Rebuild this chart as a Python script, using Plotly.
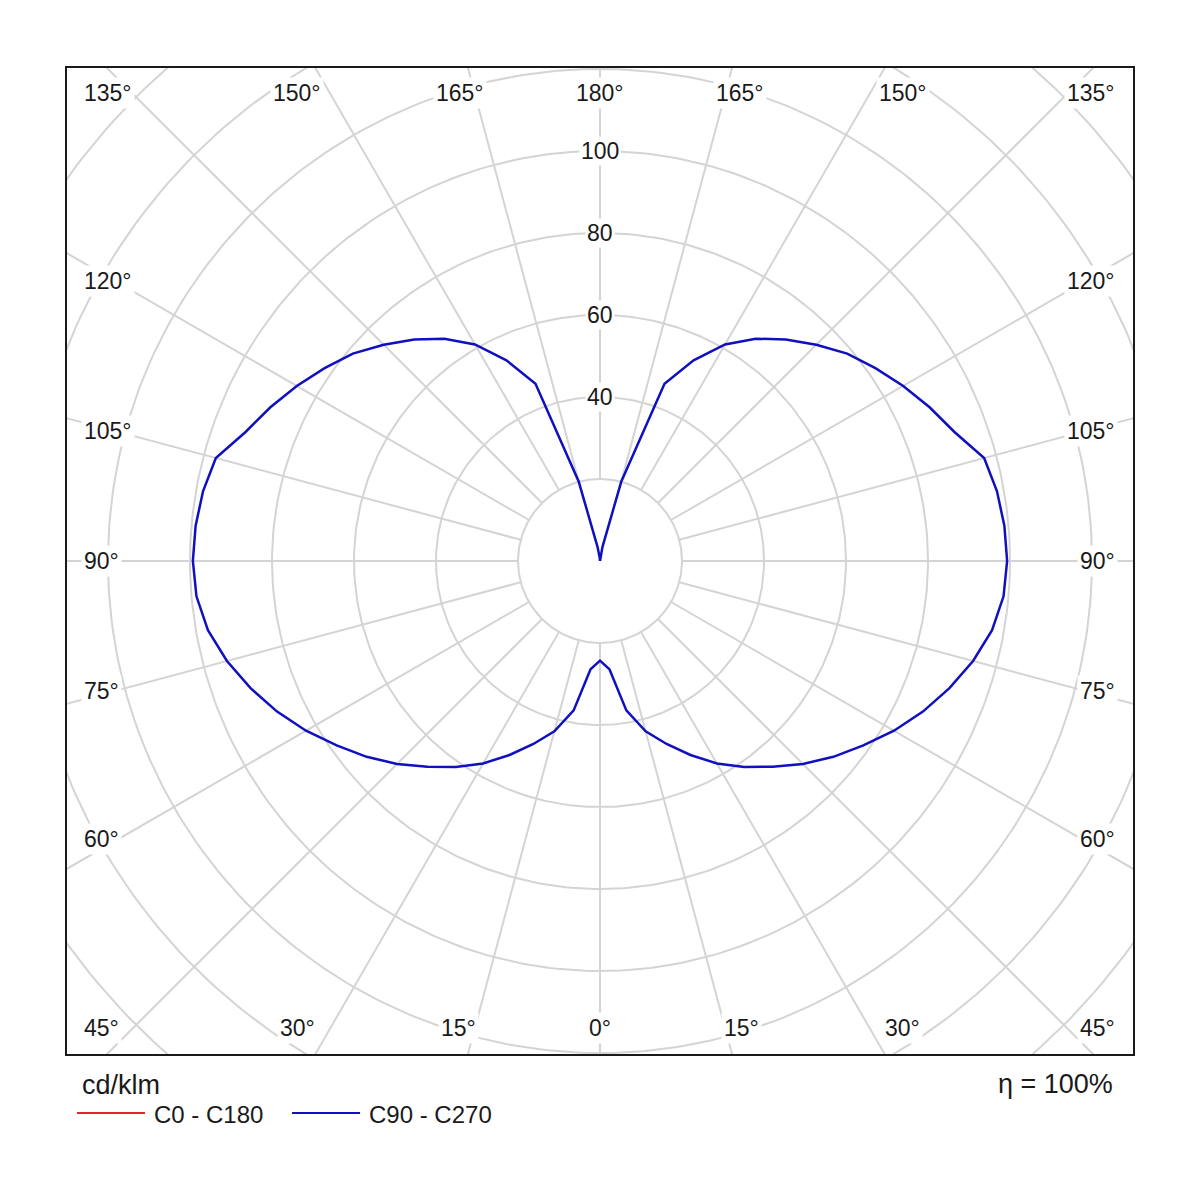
import numpy as np
import plotly.graph_objects as go

# Luminous intensity distribution (cd/klm) at 5 deg steps
gamma_deg = [0, 5, 10, 15, 20, 25, 30, 35, 40, 45, 50, 55, 60, 65, 70, 75, 80, 85, 90,
             95, 100, 105, 110, 115, 120, 125, 130, 135, 140, 145, 150, 155, 160, 165,
             170, 175, 180]
c90_c270 = [24.3, 26.5, 37.0, 43.0, 47.5, 52.2, 57.0, 61.3, 65.5, 70.0, 74.3, 78.4,
            82.8, 86.9, 90.7, 94.2, 97.1, 98.8, 99.3, 99.0, 98.3, 97.0, 92.0, 88.7,
            85.4, 82.0, 78.7, 74.6, 70.5, 66.2, 61.0, 54.0, 46.0, 20.0, 3.5, 0.8, 0.0]
# rotationally symmetric luminaire: C0-C180 equals C90-C270 and sits under it
c0_c180 = list(c90_c270)

grid_radii = [20, 40, 60, 80, 100, 120, 140, 160]
radius_labels = [40, 60, 80, 100]
spoke_angles = list(range(0, 360, 15))

# angle labels around the frame: (text, x, y, xanchor)
angle_labels = [
    ("135°", -126.6, 114.1, "left"), ("150°", -73.9, 114.1, "center"),
    ("165°", -34.1, 114.1, "center"), ("180°", 0.0, 114.1, "center"),
    ("165°", 34.1, 114.1, "center"), ("150°", 73.9, 114.1, "center"),
    ("135°", 126.3, 114.1, "right"),
    ("120°", -126.6, 68.3, "left"), ("105°", -126.6, 31.7, "left"),
    ("90°", -126.6, 0.0, "left"), ("75°", -126.6, -31.7, "left"),
    ("60°", -126.6, -67.8, "left"), ("45°", -126.6, -113.9, "left"),
    ("120°", 126.3, 68.3, "right"), ("105°", 126.3, 31.7, "right"),
    ("90°", 126.3, 0.0, "right"), ("75°", 126.3, -31.7, "right"),
    ("60°", 126.3, -67.8, "right"), ("45°", 126.3, -113.9, "right"),
    ("30°", -73.9, -113.9, "center"), ("15°", -34.6, -113.9, "center"),
    ("0°", 0.0, -113.9, "center"), ("15°", 34.6, -113.9, "center"),
    ("30°", 73.9, -113.9, "center"),
]

FONT = "Liberation Sans"
GRID = "#d4d4d4"
BLUE = "#1010c0"
RED = "#e3262b"


def to_xy(gammas, values):
    """Both halves of a C-plane pair, gamma measured from nadir (down)."""
    g = np.radians(np.asarray(gammas, dtype=float))
    r = np.asarray(values, dtype=float)
    # left half (C270 / C180) from the top down, then right half back up
    x = np.concatenate([-(r * np.sin(g))[::-1], (r * np.sin(g))[1:]])
    y = np.concatenate([(-r * np.cos(g))[::-1], (-r * np.cos(g))[1:]])
    return x, y


fig = go.Figure()

# grid circles
t = np.linspace(0, 2 * np.pi, 361)
for rad in grid_radii:
    fig.add_trace(go.Scatter(x=rad * np.cos(t), y=rad * np.sin(t), mode="lines",
                             line=dict(color=GRID, width=2), hoverinfo="skip",
                             showlegend=False))

# spokes from the inner circle outwards
for a in spoke_angles:
    ar = np.radians(a)
    fig.add_trace(go.Scatter(x=[20 * np.sin(ar), 200 * np.sin(ar)],
                             y=[-20 * np.cos(ar), -200 * np.cos(ar)], mode="lines",
                             line=dict(color=GRID, width=2), hoverinfo="skip",
                             showlegend=False))

x0, y0 = to_xy(gamma_deg, c0_c180)
fig.add_trace(go.Scatter(x=x0, y=y0, mode="lines", name="C0 - C180",
                         line=dict(color=RED, width=1), showlegend=False))
x90, y90 = to_xy(gamma_deg, c90_c270)
fig.add_trace(go.Scatter(x=x90, y=y90, mode="lines", name="C90 - C270",
                         line=dict(color=BLUE, width=2.5), showlegend=False))

annotations = []
for rad in radius_labels:
    annotations.append(dict(x=0, y=rad, text=str(rad), showarrow=False,
                            font=dict(family=FONT, size=23, color="#1a1a1a"),
                            bgcolor="white", borderpad=1))
for text, x, y, anchor in angle_labels:
    annotations.append(dict(x=x, y=y, text=text, showarrow=False, xanchor=anchor,
                            font=dict(family=FONT, size=23, color="#1a1a1a"),
                            bgcolor="white", borderpad=2))

# unit, legend and efficiency below the frame
annotations += [
    dict(xref="paper", yref="paper", x=0.0122, y=-0.0314, text="cd/klm",
         showarrow=False, xanchor="left", yanchor="middle",
         font=dict(family=FONT, size=27, color="#1a1a1a")),
    dict(xref="paper", yref="paper", x=0.0797, y=-0.0609, text="C0 - C180",
         showarrow=False, xanchor="left", yanchor="middle",
         font=dict(family=FONT, size=24, color="#1a1a1a")),
    dict(xref="paper", yref="paper", x=0.2814, y=-0.0609, text="C90 - C270",
         showarrow=False, xanchor="left", yanchor="middle",
         font=dict(family=FONT, size=24, color="#1a1a1a")),
    dict(xref="paper", yref="paper", x=0.983, y=-0.0304, text="η = 100%",
         showarrow=False, xanchor="right", yanchor="middle",
         font=dict(family=FONT, size=27, color="#1a1a1a")),
]

shapes = [
    dict(type="line", xref="paper", yref="paper", x0=0.0094, x1=0.0732,
         y0=-0.0598, y1=-0.0598, line=dict(color=RED, width=2)),
    dict(type="line", xref="paper", yref="paper", x0=0.2111, x1=0.2749,
         y0=-0.0598, y1=-0.0598, line=dict(color=BLUE, width=2)),
]

# the page body adds ~8px around the figure, so the margins compensate
fig.update_layout(
    width=1200, height=1200,
    margin=dict(l=59, r=75, t=60, b=154),
    paper_bgcolor="white", plot_bgcolor="white",
    annotations=annotations, shapes=shapes,
    xaxis=dict(range=[-130, 130], showgrid=False, zeroline=False,
               showticklabels=False, ticks="", showline=True, mirror=True,
               linecolor="#1a1a1a", linewidth=2, fixedrange=True),
    yaxis=dict(range=[-120.24, 120.24], showgrid=False, zeroline=False,
               showticklabels=False, ticks="", showline=True, mirror=True,
               linecolor="#1a1a1a", linewidth=2, fixedrange=True),
)

fig.write_html("out.html")
